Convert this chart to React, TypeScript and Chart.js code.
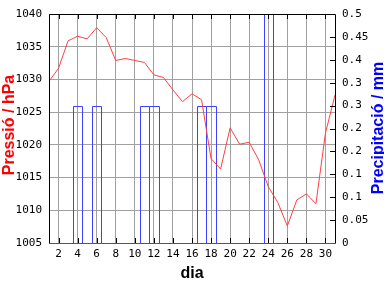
import React, { useEffect, useRef } from 'react';
import { Chart, registerables } from 'chart.js';

Chart.register(...registerables);

const days = [1, 2, 3, 4, 5, 6, 7, 8, 9, 10, 11, 12, 13, 14, 15, 16, 17, 18, 19, 20, 21, 22, 23, 24, 25, 26, 27, 28, 29, 30, 31];
const pressure = [1029.7, 1031.7, 1035.9, 1036.6, 1036.2, 1037.9, 1036.4, 1032.9, 1033.2, 1032.9, 1032.6, 1030.7, 1030.3, 1028.4, 1026.6, 1027.8, 1026.9, 1017.9, 1016.3, 1022.6, 1020.1, 1020.4, 1017.7, 1013.6, 1011.2, 1007.6, 1011.6, 1012.5, 1011.0, 1021.8, 1027.6];
const precipitation = [0, 0, 0, 0.3, 0, 0.3, 0, 0, 0, 0, 0.3, 0.3, 0, 0, 0, 0, 0.3, 0.3, 0, 0, 0, 0, 0, 0.5, 0, 0, 0, 0, 0, 0, 0];
const dayTicks = [2, 4, 6, 8, 10, 12, 14, 16, 18, 20, 22, 24, 26, 28, 30];
const pressureTicks = [1005, 1010, 1015, 1020, 1025, 1030, 1035, 1040];
const precipTicks = [0, 0.05, 0.1, 0.15, 0.2, 0.25, 0.3, 0.35, 0.4, 0.45, 0.5];
const precipTickLabels = ['0', '0.05', '0.1', '0.1', '0.2', '0.2', '0.3', '0.3', '0.4', '0.45', '0.5'];

const xTitle = 'dia';
const yTitle = 'Pressió / hPa';
const y1Title = 'Precipitació / mm';

const tickFont = { family: 'DejaVu Sans Mono', size: 11, lineHeight: 1 };
const titleFont = 'bold 16px "Liberation Sans"';
const barColor = '#4040ff';

const framePlugin = {
  id: 'frame',
  beforeDatasetsDraw(chart: any) {
    // crisp 1px outlines for the precipitation bars, from the bar elements' geometry
    const { ctx } = chart;
    const meta = chart.getDatasetMeta(1);
    ctx.save();
    ctx.lineWidth = 1;
    ctx.strokeStyle = barColor;
    ctx.beginPath();
    for (const el of meta.data) {
      const p = el.getProps(['x', 'y', 'base', 'width'], true);
      if (Math.abs(p.base - p.y) < 0.5) continue;
      const l = Math.round(p.x - p.width / 2) + 0.5;
      const r = Math.round(p.x + p.width / 2) + 0.5;
      const t = Math.round(p.y) + 0.5;
      const b = Math.round(p.base) + 0.5;
      ctx.moveTo(l, b);
      ctx.lineTo(l, t);
      ctx.lineTo(r, t);
      ctx.lineTo(r, b);
    }
    ctx.stroke();
    ctx.restore();
  },
  afterDatasetsDraw(chart: any) {
    const { ctx, chartArea, scales } = chart;
    const { left, right, top, bottom } = chartArea;
    ctx.save();
    ctx.lineWidth = 1;
    ctx.strokeStyle = '#000000';
    ctx.beginPath();
    for (const t of scales.x.ticks) {
      const px = Math.round(scales.x.getPixelForValue(t.value)) + 0.5;
      ctx.moveTo(px, top);
      ctx.lineTo(px, top + 5);
      ctx.moveTo(px, bottom);
      ctx.lineTo(px, bottom - 5);
    }
    for (const t of scales.y1.ticks) {
      const py = Math.round(scales.y1.getPixelForValue(t.value)) + 0.5;
      ctx.moveTo(right, py);
      ctx.lineTo(right - 5, py);
    }
    ctx.moveTo(left + 0.5, bottom + 0.5);
    ctx.lineTo(left + 0.5, top + 0.5);
    ctx.lineTo(right + 0.5, top + 0.5);
    ctx.lineTo(right + 0.5, bottom + 0.5);
    ctx.stroke();
    ctx.strokeStyle = barColor;
    ctx.beginPath();
    ctx.moveTo(left, bottom + 0.5);
    ctx.lineTo(right + 1, bottom + 0.5);
    ctx.stroke();
    ctx.restore();
  },
  afterDraw(chart: any) {
    const { ctx, chartArea } = chart;
    const { left, right } = chartArea;
    ctx.save();
    ctx.font = titleFont;
    ctx.textAlign = 'center';
    ctx.textBaseline = 'alphabetic';
    ctx.save();
    ctx.translate(13.5, 125);
    ctx.rotate(-Math.PI / 2);
    ctx.fillStyle = '#ff0000';
    ctx.fillText(yTitle, 0, 0);
    ctx.restore();
    ctx.save();
    ctx.translate(383, 128);
    ctx.rotate(-Math.PI / 2);
    ctx.fillStyle = '#0000ff';
    ctx.fillText(y1Title, 0, 0);
    ctx.restore();
    ctx.fillStyle = '#000000';
    ctx.fillText(xTitle, (left + right) / 2, 278);
    ctx.restore();
  },
};

export default function App() {
  const canvasRef = useRef<HTMLCanvasElement | null>(null);

  useEffect(() => {
    const canvas = canvasRef.current;
    if (!canvas) return;
    const chart = new Chart(canvas, {
      type: 'bar',
      data: {
        datasets: [
          {
            type: 'line',
            label: 'pressure',
            data: days.map((d, i) => ({ x: d, y: pressure[i] })),
            yAxisID: 'y',
            borderColor: '#ff4040',
            borderWidth: 1,
            pointRadius: 0,
            tension: 0,
            fill: false,
            order: 0,
          } as any,
          {
            type: 'bar',
            label: 'precipitation',
            data: days.map((d, i) => ({ x: d, y: precipitation[i] })),
            yAxisID: 'y1',
            backgroundColor: 'rgba(0,0,0,0)',
            borderColor: 'rgba(0,0,0,0)',
            borderWidth: 0,
            barPercentage: 1,
            categoryPercentage: 1,
            order: 1,
          } as any,
        ],
      },
      options: {
        responsive: false,
        animation: false,
        layout: { padding: { top: 14, left: 0, right: 0, bottom: 0 } },
        plugins: { legend: { display: false }, tooltip: { enabled: false } },
        scales: {
          x: {
            type: 'linear',
            position: 'bottom',
            offset: false,
            min: 1,
            max: 31,
            afterBuildTicks: (s: any) => {
              s.ticks = dayTicks.map((v) => ({ value: v }));
            },
            afterFit: (s: any) => {
              s.height = 45;
            },
            grid: { color: '#a0a0a0', drawTicks: false, lineWidth: 1, offset: false },
            border: { display: false },
            ticks: {
              padding: 6,
              color: '#000000',
              font: tickFont,
              autoSkip: false,
              maxRotation: 0,
              callback: (v: any) => String(v),
            },
          },
          y: {
            type: 'linear',
            position: 'left',
            min: 1005,
            max: 1040,
            afterBuildTicks: (s: any) => {
              s.ticks = pressureTicks.map((v) => ({ value: v }));
            },
            afterFit: (s: any) => {
              s.width = 49;
            },
            grid: { color: '#a0a0a0', drawTicks: false, lineWidth: 1 },
            border: { display: false },
            ticks: {
              padding: 7,
              color: '#000000',
              font: tickFont,
              callback: (v: any) => String(v),
            },
          },
          y1: {
            type: 'linear',
            position: 'right',
            min: 0,
            max: 0.5,
            afterBuildTicks: (s: any) => {
              s.ticks = precipTicks.map((v) => ({ value: v }));
            },
            afterFit: (s: any) => {
              s.width = 49;
            },
            grid: { display: false, drawTicks: false },
            border: { display: false },
            ticks: {
              padding: 7,
              color: '#000000',
              font: tickFont,
              callback: (_v: any, i: number) => precipTickLabels[i],
            },
          },
        },
      } as any,
      plugins: [framePlugin],
    });
    return () => chart.destroy();
  }, []);

  return (
    <div style={{ position: 'fixed', left: 0, top: 0, width: 384, height: 288, background: '#ffffff' }}>
      <canvas ref={canvasRef} width={384} height={288} style={{ display: 'block', width: 384, height: 288 }} />
    </div>
  );
}
